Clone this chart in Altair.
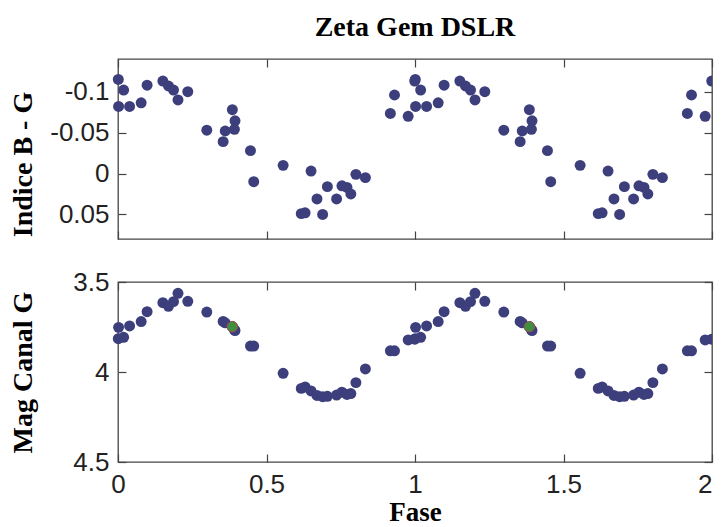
import altair as alt
import pandas as pd

# Observations (phase in one cycle; plotted over two cycles 0-2)
fase = [0.999, 0.001, 0.002, 0.019, 0.039, 0.078, 0.098, 0.151, 0.170, 0.187,
        0.202, 0.235, 0.299, 0.354, 0.361, 0.385, 0.394, 0.392, 0.446, 0.457,
        0.556, 0.617, 0.630, 0.650, 0.670, 0.689, 0.705, 0.736, 0.754, 0.771,
        0.784, 0.801, 0.833, 0.917, 0.931, 0.977]
indice_bg = [-0.113, -0.115, -0.082, -0.102, -0.082, -0.0865, -0.108, -0.113, -0.107, -0.102,
             -0.090, -0.100, -0.053, -0.039, -0.052, -0.078, -0.0645, -0.054, -0.028, 0.010,
             -0.010, 0.049, 0.048, -0.003, 0.031, 0.050, 0.016, 0.031, 0.015, 0.017,
             0.025, 0.001, 0.005, -0.0734, -0.096, -0.070]
mag_g = [3.818, 3.815, 3.752, 3.807, 3.744, 3.720, 3.665, 3.615, 3.635, 3.609,
         3.563, 3.607, 3.667, 3.719, 3.727, 3.748, 3.770, 3.765, 3.856, 3.856,
         4.007, 4.091, 4.083, 4.105, 4.130, 4.137, 4.135, 4.128, 4.112, 4.125,
         4.120, 4.059, 3.983, 3.882, 3.882, 3.822]
ciclos = [0, 1]

# highlighted observation (green)
hl_fase = [0.385]
hl_mag = [3.748]

x_ticks = [0, 0.5, 1, 1.5, 2]
bg_ticks = [-0.1, -0.05, 0, 0.05]
mag_ticks = [3.5, 4, 4.5]

rows = [{"fase": p + c, "bg": b, "mag": m}
        for c in ciclos for p, b, m in zip(fase, indice_bg, mag_g)]
df = pd.DataFrame(rows)
hl = pd.DataFrame([{"fase": p + c, "mag": m} for c in ciclos for p, m in zip(hl_fase, hl_mag)])

W, H = 594, 180
TICK = 8
FRAME = "#444444"
DOT = "#3d3f7c"
LABEL_FONT = "Liberation Sans"
TITLE_FONT = "Liberation Serif"
MINUS = chr(0x2212)
LABEL_EXPR = f"replace(datum.label, '{MINUS}', '-')"


def tick_axis(orient, offset, values):
    return alt.Axis(orient=orient, offset=offset, values=values, labels=False,
                    domain=False, grid=False, ticks=True, tickSize=TICK,
                    tickColor=FRAME, tickWidth=1.2, title=None,
                    minExtent=0, maxExtent=0)


def panel(ycol, yscale, yvals, ytitle, title_y, show_x, extra=()):
    xs = alt.Scale(domain=[0, 2], nice=False, zero=False)
    if show_x:
        xaxis = alt.Axis(orient="bottom", values=x_ticks, ticks=False, tickSize=0,
                         domain=False, grid=False, labelFlush=False, format="~g",
                         labelAlign=alt.condition("datum.value == 2", alt.value("right"),
                                                  alt.value("center")),
                         labelFont=LABEL_FONT, labelFontSize=26, labelPadding=9,
                         labelColor="#222222", title="Fase", titleFont=TITLE_FONT,
                         titleFontWeight="bold", titleFontSize=27, titleColor="#000000",
                         titleBaseline="alphabetic", titleY=58)
    else:
        xaxis = None
    yaxis = alt.Axis(orient="left", values=yvals, ticks=False, tickSize=0, domain=False,
                     grid=False, format="~g", labelExpr=LABEL_EXPR,
                     labelFont=LABEL_FONT, labelFontSize=26, labelPadding=9,
                     labelColor="#222222", title=ytitle, titleFont=TITLE_FONT,
                     titleFontWeight="bold", titleFontSize=28, titleColor="#000000",
                     titleBaseline="alphabetic", titleAlign="center", titleAngle=270,
                     titleX=-87, titleY=title_y)
    base = alt.Chart(df)
    pts = base.transform_filter("datum.fase < 1.9").mark_circle(
        size=120, color=DOT, opacity=1).encode(
        x=alt.X("fase:Q", scale=xs, axis=xaxis),
        y=alt.Y(f"{ycol}:Q", scale=yscale, axis=yaxis))
    edge = base.transform_filter("datum.fase >= 1.9").mark_circle(
        size=120, color=DOT, opacity=1, clip=True).encode(
        x=alt.X("fase:Q", scale=xs, axis=None),
        y=alt.Y(f"{ycol}:Q", scale=yscale, axis=None))
    t1 = base.mark_circle(opacity=0).encode(
        x=alt.X("fase:Q", scale=xs, axis=tick_axis("top", -H, x_ticks)),
        y=alt.Y(f"{ycol}:Q", scale=yscale, axis=tick_axis("right", -W, yvals)))
    t2 = base.mark_circle(opacity=0).encode(
        x=alt.X("fase:Q", scale=xs, axis=tick_axis("bottom", -H, x_ticks)),
        y=alt.Y(f"{ycol}:Q", scale=yscale, axis=tick_axis("left", -W, yvals)))
    layers = [pts, edge, t1, t2] + list(extra)
    return alt.layer(*layers).resolve_axis(x="independent", y="independent").properties(
        width=W, height=H)


top_scale = alt.Scale(domain=[-0.14, 0.08], reverse=True, nice=False, zero=False)
bot_scale = alt.Scale(domain=[3.5, 4.5], reverse=True, nice=False, zero=False)

top = panel("bg", top_scale, bg_ticks, "Indice B - G", 105, False).properties(
    title=alt.TitleParams("Zeta Gem DSLR", font=TITLE_FONT, fontSize=28,
                          fontWeight="bold", color="#000000", anchor="middle",
                          frame="group", baseline="alphabetic", offset=-6))

green = alt.Chart(hl).mark_circle(size=110, color="#3f8f3f", opacity=1,
                                   stroke="#a84a4a", strokeWidth=1).encode(
    x=alt.X("fase:Q", scale=alt.Scale(domain=[0, 2], nice=False, zero=False), axis=None),
    y=alt.Y("mag:Q", scale=bot_scale, axis=None))

bottom = panel("mag", bot_scale, mag_ticks, "Mag Canal G", 90, True, extra=[green])

chart = alt.vconcat(top, bottom, spacing=27).configure_view(
    stroke=FRAME, strokeWidth=1.3).properties(
    padding={"left": 0, "top": 5, "right": 0, "bottom": 0})

chart.save("out.html", embed_options={"renderer": "svg", "actions": False})
